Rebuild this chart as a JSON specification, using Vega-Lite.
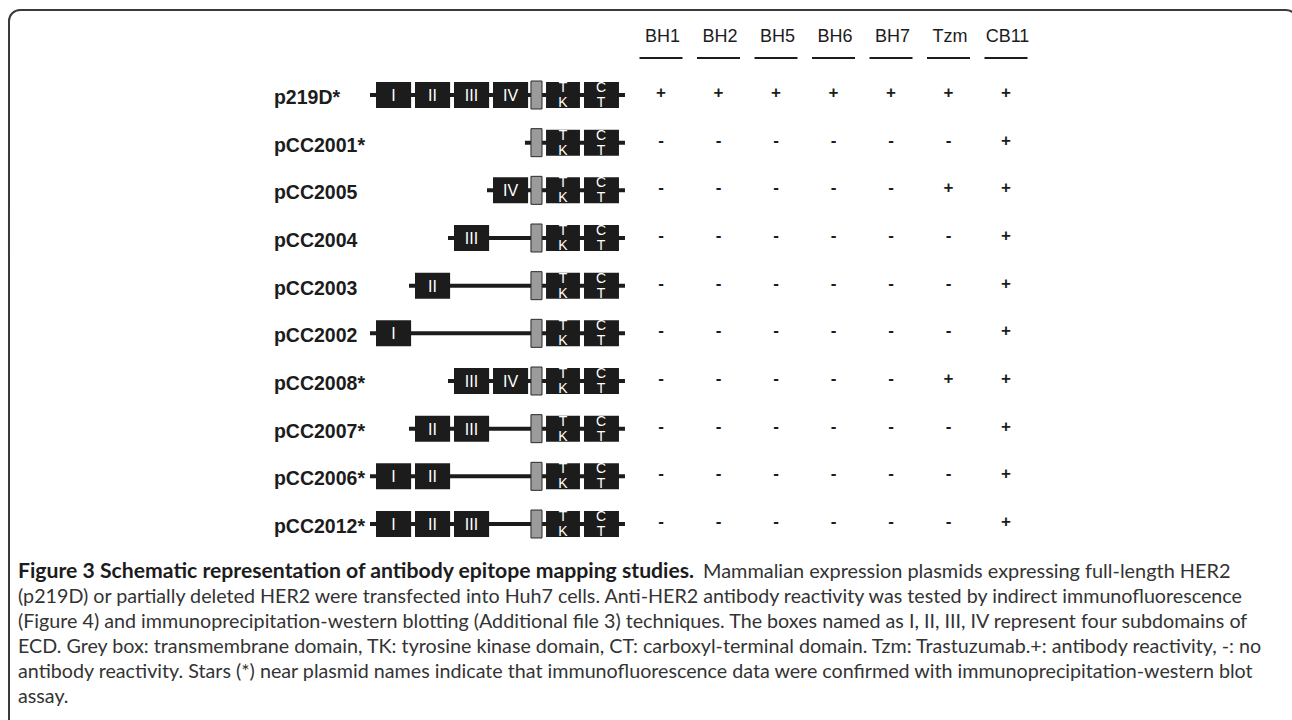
{
  "$schema": "https://vega.github.io/schema/vega-lite/v6.json",
  "width": 1292,
  "height": 720,
  "padding": 0,
  "autosize": {"type": "none"},
  "background": "white",
  "config": {"view": {"stroke": null}},
  "datasets": {
    "constructs": [
      {"plasmid": "p219D*", "domains": ["I", "II", "III", "IV", "TM", "TK", "CT"]},
      {"plasmid": "pCC2001*", "domains": ["TM", "TK", "CT"]},
      {"plasmid": "pCC2005", "domains": ["IV", "TM", "TK", "CT"]},
      {"plasmid": "pCC2004", "domains": ["III", "TM", "TK", "CT"]},
      {"plasmid": "pCC2003", "domains": ["II", "TM", "TK", "CT"]},
      {"plasmid": "pCC2002", "domains": ["I", "TM", "TK", "CT"]},
      {"plasmid": "pCC2008*", "domains": ["III", "IV", "TM", "TK", "CT"]},
      {"plasmid": "pCC2007*", "domains": ["II", "III", "TM", "TK", "CT"]},
      {"plasmid": "pCC2006*", "domains": ["I", "II", "TM", "TK", "CT"]},
      {"plasmid": "pCC2012*", "domains": ["I", "II", "III", "TM", "TK", "CT"]}
    ],
    "domains": [
      {"domain": "I", "start": 0, "end": 2.7, "label": "I", "upper": "", "lower": ""},
      {"domain": "II", "start": 3, "end": 5.7, "label": "II", "upper": "", "lower": ""},
      {"domain": "III", "start": 6, "end": 8.7, "label": "III", "upper": "", "lower": ""},
      {"domain": "IV", "start": 9, "end": 11.7, "label": "IV", "upper": "", "lower": ""},
      {"domain": "TM", "start": 11.92, "end": 12.77, "label": "", "upper": "", "lower": ""},
      {"domain": "TK", "start": 13.08, "end": 15.69, "label": "", "upper": "T", "lower": "K"},
      {"domain": "CT", "start": 16, "end": 18.69, "label": "", "upper": "C", "lower": "T"}
    ],
    "reactivity": [
      {"plasmid": "p219D*", "BH1": "+", "BH2": "+", "BH5": "+", "BH6": "+", "BH7": "+", "Tzm": "+", "CB11": "+"},
      {"plasmid": "pCC2001*", "BH1": "-", "BH2": "-", "BH5": "-", "BH6": "-", "BH7": "-", "Tzm": "-", "CB11": "+"},
      {"plasmid": "pCC2005", "BH1": "-", "BH2": "-", "BH5": "-", "BH6": "-", "BH7": "-", "Tzm": "+", "CB11": "+"},
      {"plasmid": "pCC2004", "BH1": "-", "BH2": "-", "BH5": "-", "BH6": "-", "BH7": "-", "Tzm": "-", "CB11": "+"},
      {"plasmid": "pCC2003", "BH1": "-", "BH2": "-", "BH5": "-", "BH6": "-", "BH7": "-", "Tzm": "-", "CB11": "+"},
      {"plasmid": "pCC2002", "BH1": "-", "BH2": "-", "BH5": "-", "BH6": "-", "BH7": "-", "Tzm": "-", "CB11": "+"},
      {"plasmid": "pCC2008*", "BH1": "-", "BH2": "-", "BH5": "-", "BH6": "-", "BH7": "-", "Tzm": "+", "CB11": "+"},
      {"plasmid": "pCC2007*", "BH1": "-", "BH2": "-", "BH5": "-", "BH6": "-", "BH7": "-", "Tzm": "-", "CB11": "+"},
      {"plasmid": "pCC2006*", "BH1": "-", "BH2": "-", "BH5": "-", "BH6": "-", "BH7": "-", "Tzm": "-", "CB11": "+"},
      {"plasmid": "pCC2012*", "BH1": "-", "BH2": "-", "BH5": "-", "BH6": "-", "BH7": "-", "Tzm": "-", "CB11": "+"}
    ],
    "antibodies": [
      {"antibody": "BH1"}, {"antibody": "BH2"}, {"antibody": "BH5"}, {"antibody": "BH6"},
      {"antibody": "BH7"}, {"antibody": "Tzm"}, {"antibody": "CB11"}
    ],
    "caption": [
      {"line": 2, "text": "(p219D) or partially deleted HER2 were transfected into Huh7 cells. Anti-HER2 antibody reactivity was tested by indirect immunofluorescence"},
      {"line": 3, "text": "(Figure 4) and immunoprecipitation-western blotting (Additional file 3) techniques. The boxes named as I, II, III, IV represent four subdomains of"},
      {"line": 4, "text": "ECD. Grey box: transmembrane domain, TK: tyrosine kinase domain, CT: carboxyl-terminal domain. Tzm: Trastuzumab.+: antibody reactivity, -: no"},
      {"line": 5, "text": "antibody reactivity. Stars (*) near plasmid names indicate that immunofluorescence data were confirmed with immunoprecipitation-western blot"},
      {"line": 6, "text": "assay."}
    ]
  },
  "layer": [
    {
      "data": {"values": [{"frame": "figure"}]},
      "mark": {"type": "rect", "filled": false, "stroke": "#3a3a3a", "strokeWidth": 2, "cornerRadius": 11},
      "encoding": {
        "x": {"value": 9}, "x2": {"value": 1297},
        "y": {"value": 10}, "y2": {"value": 800}
      }
    },
    {
      "data": {"name": "constructs"},
      "transform": [
        {"flatten": ["domains"], "as": ["domain"]},
        {"lookup": "domain", "from": {"data": {"name": "domains"}, "key": "domain", "fields": ["start", "end"]}},
        {"aggregate": [{"op": "min", "field": "start", "as": "first"}, {"op": "max", "field": "end", "as": "last"}], "groupby": ["plasmid"]}
      ],
      "mark": {"type": "rule", "strokeWidth": 4, "color": "#1c1c1c", "xOffset": -6, "x2Offset": 6},
      "encoding": {
        "x": {"field": "first", "type": "quantitative", "axis": null, "scale": {"type": "linear", "domain": [0, 16], "range": [376, 584], "nice": false, "zero": false}},
        "x2": {"field": "last"},
        "y": {"field": "plasmid", "type": "nominal", "axis": null, "scale": {"type": "point", "domain": ["p219D*", "pCC2001*", "pCC2005", "pCC2004", "pCC2003", "pCC2002", "pCC2008*", "pCC2007*", "pCC2006*", "pCC2012*"], "range": [95, 524], "padding": 0}}
      }
    },
    {
      "data": {"name": "constructs"},
      "transform": [
        {"flatten": ["domains"], "as": ["domain"]},
        {"lookup": "domain", "from": {"data": {"name": "domains"}, "key": "domain", "fields": ["start", "end"]}},
        {"filter": "datum.domain !== 'TM'"}
      ],
      "mark": {"type": "bar", "height": 26, "color": "#1c1c1c"},
      "encoding": {
        "x": {"field": "start", "type": "quantitative", "axis": null, "scale": {"type": "linear", "domain": [0, 16], "range": [376, 584], "nice": false, "zero": false}},
        "x2": {"field": "end"},
        "y": {"field": "plasmid", "type": "nominal", "axis": null, "scale": {"type": "point", "domain": ["p219D*", "pCC2001*", "pCC2005", "pCC2004", "pCC2003", "pCC2002", "pCC2008*", "pCC2007*", "pCC2006*", "pCC2012*"], "range": [95, 524], "padding": 0}}
      }
    },
    {
      "data": {"name": "constructs"},
      "transform": [
        {"flatten": ["domains"], "as": ["domain"]},
        {"lookup": "domain", "from": {"data": {"name": "domains"}, "key": "domain", "fields": ["start", "end"]}},
        {"filter": "datum.domain === 'TM'"}
      ],
      "mark": {"type": "bar", "height": 28, "color": "#9b9b9b", "stroke": "#2a2a2a", "strokeWidth": 1},
      "encoding": {
        "x": {"field": "start", "type": "quantitative", "axis": null, "scale": {"type": "linear", "domain": [0, 16], "range": [376, 584], "nice": false, "zero": false}},
        "x2": {"field": "end"},
        "y": {"field": "plasmid", "type": "nominal", "axis": null, "scale": {"type": "point", "domain": ["p219D*", "pCC2001*", "pCC2005", "pCC2004", "pCC2003", "pCC2002", "pCC2008*", "pCC2007*", "pCC2006*", "pCC2012*"], "range": [95, 524], "padding": 0}}
      }
    },
    {
      "data": {"name": "constructs"},
      "transform": [
        {"flatten": ["domains"], "as": ["domain"]},
        {"lookup": "domain", "from": {"data": {"name": "domains"}, "key": "domain", "fields": ["start", "label"]}},
        {"filter": "datum.label !== ''"}
      ],
      "mark": {"type": "text", "color": "white", "font": "Liberation Sans", "fontSize": 16, "align": "center", "baseline": "middle", "xOffset": 17.5, "dy": 1},
      "encoding": {
        "x": {"field": "start", "type": "quantitative", "axis": null, "scale": {"type": "linear", "domain": [0, 16], "range": [376, 584], "nice": false, "zero": false}},
        "y": {"field": "plasmid", "type": "nominal", "axis": null, "scale": {"type": "point", "domain": ["p219D*", "pCC2001*", "pCC2005", "pCC2004", "pCC2003", "pCC2002", "pCC2008*", "pCC2007*", "pCC2006*", "pCC2012*"], "range": [95, 524], "padding": 0}},
        "text": {"field": "label", "type": "nominal"}
      }
    },
    {
      "data": {"name": "constructs"},
      "transform": [
        {"flatten": ["domains"], "as": ["domain"]},
        {"lookup": "domain", "from": {"data": {"name": "domains"}, "key": "domain", "fields": ["start", "upper"]}},
        {"filter": "datum.upper !== ''"}
      ],
      "mark": {"type": "text", "color": "white", "font": "Liberation Sans", "fontSize": 14, "align": "center", "baseline": "middle", "xOffset": 17, "dy": -7},
      "encoding": {
        "x": {"field": "start", "type": "quantitative", "axis": null, "scale": {"type": "linear", "domain": [0, 16], "range": [376, 584], "nice": false, "zero": false}},
        "y": {"field": "plasmid", "type": "nominal", "axis": null, "scale": {"type": "point", "domain": ["p219D*", "pCC2001*", "pCC2005", "pCC2004", "pCC2003", "pCC2002", "pCC2008*", "pCC2007*", "pCC2006*", "pCC2012*"], "range": [95, 524], "padding": 0}},
        "text": {"field": "upper", "type": "nominal"}
      }
    },
    {
      "data": {"name": "constructs"},
      "transform": [
        {"flatten": ["domains"], "as": ["domain"]},
        {"lookup": "domain", "from": {"data": {"name": "domains"}, "key": "domain", "fields": ["start", "lower"]}},
        {"filter": "datum.lower !== ''"}
      ],
      "mark": {"type": "text", "color": "white", "font": "Liberation Sans", "fontSize": 14, "align": "center", "baseline": "middle", "xOffset": 17, "dy": 8},
      "encoding": {
        "x": {"field": "start", "type": "quantitative", "axis": null, "scale": {"type": "linear", "domain": [0, 16], "range": [376, 584], "nice": false, "zero": false}},
        "y": {"field": "plasmid", "type": "nominal", "axis": null, "scale": {"type": "point", "domain": ["p219D*", "pCC2001*", "pCC2005", "pCC2004", "pCC2003", "pCC2002", "pCC2008*", "pCC2007*", "pCC2006*", "pCC2012*"], "range": [95, 524], "padding": 0}},
        "text": {"field": "lower", "type": "nominal"}
      }
    },
    {
      "data": {"name": "constructs"},
      "mark": {"type": "text", "color": "#1c1c1c", "font": "Liberation Sans", "fontWeight": "bold", "fontSize": 19.5, "align": "left", "baseline": "middle", "dy": 3},
      "encoding": {
        "x": {"datum": -7.85, "type": "quantitative", "axis": null, "scale": {"type": "linear", "domain": [0, 16], "range": [376, 584], "nice": false, "zero": false}},
        "y": {"field": "plasmid", "type": "nominal", "axis": null, "scale": {"type": "point", "domain": ["p219D*", "pCC2001*", "pCC2005", "pCC2004", "pCC2003", "pCC2002", "pCC2008*", "pCC2007*", "pCC2006*", "pCC2012*"], "range": [95, 524], "padding": 0}},
        "text": {"field": "plasmid", "type": "nominal"}
      }
    },
    {
      "data": {"name": "reactivity"},
      "transform": [
        {"fold": ["BH1", "BH2", "BH5", "BH6", "BH7", "Tzm", "CB11"], "as": ["antibody", "result"]}
      ],
      "mark": {"type": "text", "color": "#1c1c1c", "font": "Liberation Sans", "fontWeight": "bold", "fontSize": 17, "align": "center", "baseline": "middle", "dy": -2},
      "encoding": {
        "x": {"field": "antibody", "type": "nominal", "axis": null, "scale": {"type": "point", "domain": ["BH1", "BH2", "BH5", "BH6", "BH7", "Tzm", "CB11"], "range": [661, 1006], "padding": 0}},
        "y": {"field": "plasmid", "type": "nominal", "axis": null, "scale": {"type": "point", "domain": ["p219D*", "pCC2001*", "pCC2005", "pCC2004", "pCC2003", "pCC2002", "pCC2008*", "pCC2007*", "pCC2006*", "pCC2012*"], "range": [95, 524], "padding": 0}},
        "text": {"field": "result", "type": "nominal"}
      }
    },
    {
      "data": {"name": "antibodies"},
      "mark": {"type": "text", "color": "#1c1c1c", "font": "Liberation Sans", "fontSize": 18, "align": "center", "baseline": "middle", "dx": 1.5},
      "encoding": {
        "x": {"field": "antibody", "type": "nominal", "axis": null, "scale": {"type": "point", "domain": ["BH1", "BH2", "BH5", "BH6", "BH7", "Tzm", "CB11"], "range": [661, 1006], "padding": 0}},
        "y": {"value": 37},
        "text": {"field": "antibody", "type": "nominal"}
      }
    },
    {
      "data": {"name": "antibodies"},
      "mark": {"type": "rule", "color": "#1c1c1c", "strokeWidth": 2, "xOffset": -21.5, "x2Offset": 21.5},
      "encoding": {
        "x": {"field": "antibody", "type": "nominal", "axis": null, "scale": {"type": "point", "domain": ["BH1", "BH2", "BH5", "BH6", "BH7", "Tzm", "CB11"], "range": [661, 1006], "padding": 0}},
        "x2": {"field": "antibody"},
        "y": {"value": 58}
      }
    },
    {
      "data": {"values": [{"text": "Figure 3 Schematic representation of antibody epitope mapping studies."}]},
      "mark": {"type": "text", "color": "#1c1c1c", "font": "Lato", "fontWeight": "bold", "fontSize": 21.2, "align": "left", "baseline": "middle"},
      "encoding": {"x": {"value": 18}, "y": {"value": 572}, "text": {"field": "text", "type": "nominal"}}
    },
    {
      "data": {"values": [{"text": "Mammalian expression plasmids expressing full-length HER2"}]},
      "mark": {"type": "text", "color": "#333333", "font": "Lato", "fontSize": 19.9, "align": "left", "baseline": "middle"},
      "encoding": {"x": {"value": 703}, "y": {"value": 572}, "text": {"field": "text", "type": "nominal"}}
    },
    {
      "data": {"name": "caption"},
      "mark": {"type": "text", "color": "#333333", "font": "Lato", "fontSize": 19.7, "align": "left", "baseline": "middle"},
      "encoding": {
        "x": {"value": 18},
        "y": {"field": "line", "type": "ordinal", "axis": null, "scale": {"type": "point", "domain": [2, 3, 4, 5, 6], "range": [597, 697], "padding": 0}},
        "text": {"field": "text", "type": "nominal"}
      }
    }
  ],
  "resolve": {"scale": {"x": "independent", "y": "independent"}}
}
